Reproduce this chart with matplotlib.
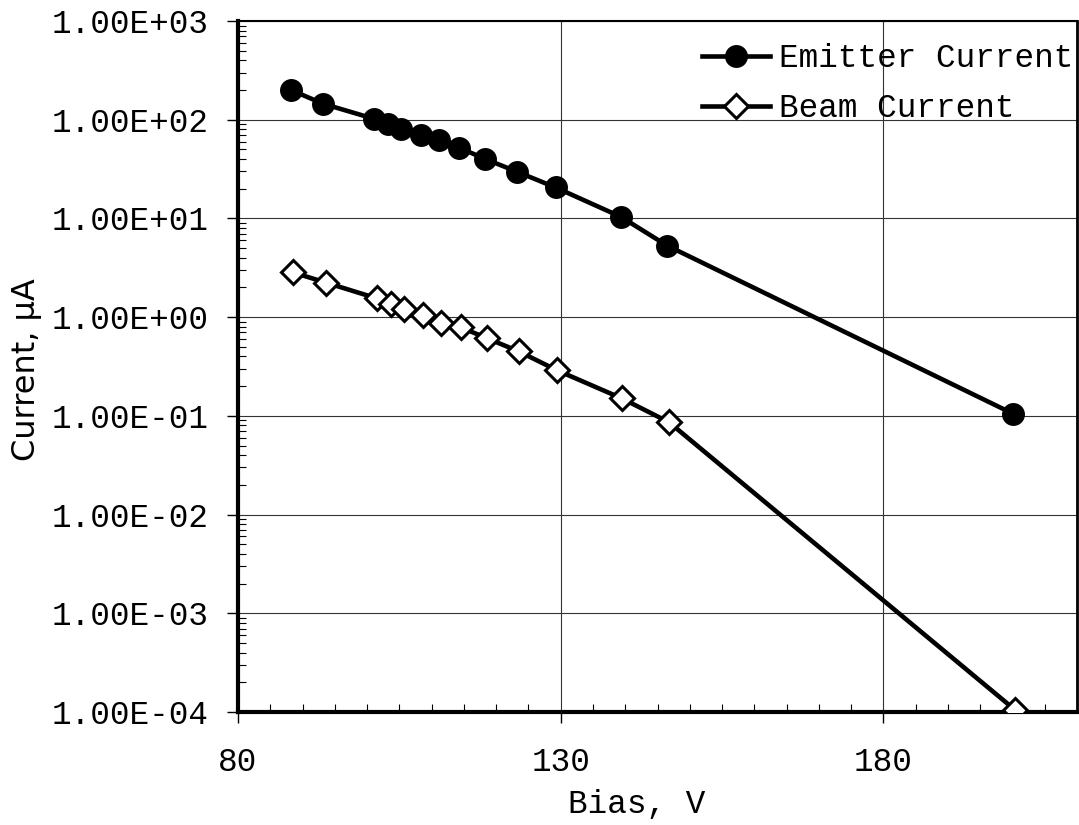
import matplotlib
matplotlib.use('Agg')
import matplotlib.pyplot as plt
from matplotlib.ticker import FixedLocator, MultipleLocator, LogLocator, FuncFormatter, NullFormatter

# data
bias_emitter = [88.2, 93.2, 101.1, 103.2, 105.3, 108.3, 111.2, 114.3, 118.3, 123.3, 129.2, 139.3, 146.5, 200.1]
emitter_current = [200, 145, 102, 91, 80, 70, 62.5, 52, 40, 29.6, 20.6, 10.4, 5.3, 0.105]

bias_beam = [88.5, 93.6, 101.5, 103.7, 105.7, 108.6, 111.5, 114.5, 118.6, 123.5, 129.4, 139.5, 146.8, 200.4]
beam_current = [2.84, 2.24, 1.55, 1.35, 1.21, 1.05, 0.88, 0.79, 0.61, 0.45, 0.29, 0.150, 0.086, 1.05e-4]

x_ticks = [80, 130, 180]
y_ticks = [1e-4, 1e-3, 1e-2, 1e-1, 1e0, 1e1, 1e2, 1e3]

mono = 'Liberation Mono'
fs = 23.5

fig = plt.figure(figsize=(10.79, 8.25), dpi=100)
ax = fig.add_axes([238/1079, 1-712/825, (1077-238)/1079, (712-21)/825])

ax.plot(bias_emitter, emitter_current, color='black', lw=3.3, marker='o',
        ms=15.5, mfc='black', mec='black', label='Emitter Current', zorder=3)
ax.plot(bias_beam, beam_current, color='black', lw=3.3, marker='D',
        ms=12.5, mfc='white', mec='black', mew=2.2, label='Beam Current', zorder=3)

ax.set_yscale('log')
ax.set_xlim(80, 210)
ax.set_ylim(1e-4, 1e3)

ax.xaxis.set_major_locator(FixedLocator(x_ticks))
ax.xaxis.set_minor_locator(MultipleLocator(5))
ax.yaxis.set_major_locator(FixedLocator(y_ticks))
ax.yaxis.set_minor_locator(LogLocator(base=10, subs=range(2, 10), numticks=20))
ax.yaxis.set_major_formatter(FuncFormatter(lambda v, p: '%.2E' % v))
ax.yaxis.set_minor_formatter(NullFormatter())

ax.grid(True, which='major', color='#333333', lw=0.8)
ax.set_axisbelow(True)

ax.tick_params(which='major', direction='out', length=8, width=1, color='black')
ax.tick_params(which='minor', direction='in', length=6, width=0.8, color='black')
ax.tick_params(axis='y', which='major', pad=13)
ax.tick_params(axis='x', which='major', pad=17)
for lab in ax.get_xticklabels() + ax.get_yticklabels():
    lab.set_fontfamily(mono)
    lab.set_fontsize(fs)

ax.spines['left'].set_linewidth(3)
ax.spines['bottom'].set_linewidth(3)
ax.spines['top'].set_linewidth(1.5)
ax.spines['right'].set_linewidth(2)

ax.set_xlabel('Bias, V', fontfamily=mono, fontsize=fs)
ax.xaxis.set_label_coords((637-238)/839, -0.112)
ax.set_ylabel('Current, μA', fontfamily='DejaVu Sans', fontsize=23)
ax.yaxis.set_label_coords((42-238)/839, 0.495)

leg = ax.legend(loc='upper left', bbox_to_anchor=((702-238)/839, 0.968), frameon=False,
                prop={'family': mono, 'size': fs}, borderpad=0, borderaxespad=0,
                handlelength=2.07, handletextpad=0.3, labelspacing=0.58)

plt.savefig('out.png', dpi=100)
